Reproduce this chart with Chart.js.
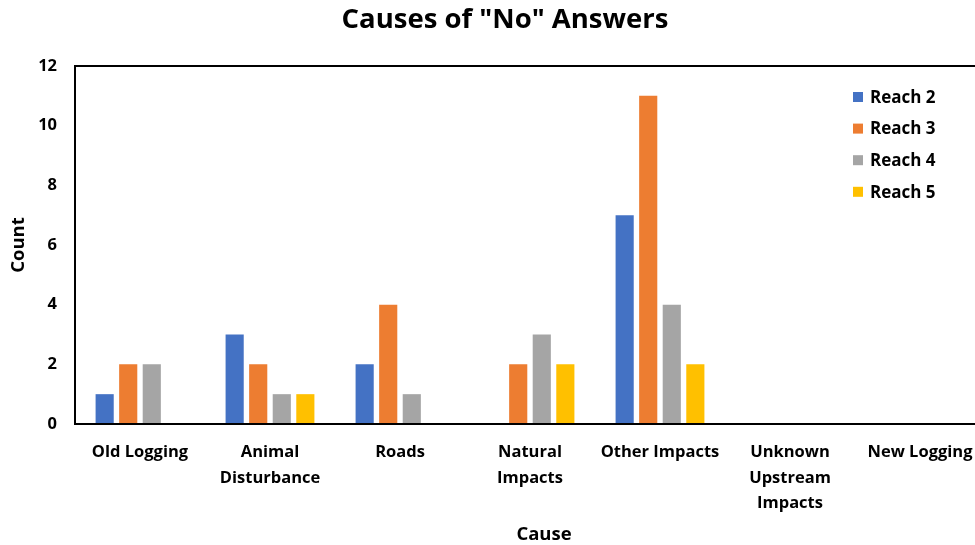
<!DOCTYPE html>
<html>
<head>
<meta charset="utf-8">
<script src="https://cdn.jsdelivr.net/npm/chart.js@4/dist/chart.umd.min.js"></script>
<style>
  html, body { margin: 0; padding: 0; background: #fff; overflow: hidden; }
  #wrap { width: 975px; height: 545px; overflow: hidden; position: relative; }
  #box { width: 1010px; height: 545px; position: absolute; left: 0; top: 0; }
</style>
</head>
<body>
<div id="wrap"><div id="box"><canvas id="c"></canvas></div></div>
<script>
const causes = [
  'Old Logging',
  ['Animal', 'Disturbance'],
  'Roads',
  ['Natural', 'Impacts'],
  'Other Impacts',
  ['Unknown', 'Upstream', 'Impacts'],
  'New Logging'
];
const seriesNames = ['Reach 2', 'Reach 3', 'Reach 4', 'Reach 5'];
const reach2 = [1, 3, 2, 0, 7, 0, 0];
const reach3 = [2, 2, 4, 2, 11, 0, 0];
const reach4 = [2, 1, 1, 3, 4, 0, 0];
const reach5 = [0, 1, 0, 2, 2, 0, 0];
const seriesColors = ['#4472C4', '#ED7D31', '#A5A5A5', '#FFC000'];
const yTicks = [0, 2, 4, 6, 8, 10, 12];
const chartTitle = 'Causes of "No" Answers';
const xTitle = 'Cause';

const FONT = '"Open Sans", Lato, sans-serif';
const TEXT = '#000000';

const values = [reach2, reach3, reach4, reach5];

// Plot-area frame, chart title, x-axis title and the in-plot legend
const framePlugin = {
  id: 'frame',
  afterDatasetsDraw(chart) {
    const { ctx, chartArea: a } = chart;
    ctx.save();
    ctx.strokeStyle = '#000';
    ctx.lineWidth = 2;
    ctx.strokeRect(a.left, a.top, a.right - a.left, a.bottom - a.top);
    ctx.restore();
  },
  afterDraw(chart) {
    const { ctx } = chart;
    ctx.save();
    ctx.fillStyle = TEXT;
    ctx.textAlign = 'center';
    ctx.textBaseline = 'middle';
    ctx.font = 'bold 27.5px ' + FONT;
    ctx.fillText(chartTitle, 505, 20);

    ctx.font = 'bold 18.5px ' + FONT;
    ctx.fillText(xTitle, 544, 535);

    ctx.font = 'bold 17px ' + FONT;
    ctx.textAlign = 'left';
    const x0 = 853, y0 = 97, step = 31.6, sq = 10;
    chart.data.datasets.forEach((ds, i) => {
      const y = y0 + i * step;
      ctx.fillStyle = ds.backgroundColor;
      ctx.fillRect(x0, y - sq / 2, sq, sq);
      ctx.fillStyle = TEXT;
      ctx.fillText(ds.label, x0 + 17, y + 1);
    });
    ctx.restore();
  }
};

new Chart(document.getElementById('c'), {
  type: 'bar',
  data: {
    labels: causes,
    datasets: seriesNames.map((name, i) => ({
      label: name,
      data: values[i],
      backgroundColor: seriesColors[i],
      borderWidth: 0,
      categoryPercentage: 0.725,
      barPercentage: 0.77
    }))
  },
  options: {
    responsive: true,
    maintainAspectRatio: false,
    animation: false,
    layout: { padding: { left: 0, right: 25, top: 66, bottom: 0 } },
    plugins: {
      legend: { display: false },
      tooltip: { enabled: false },
      title: { display: false }
    },
    scales: {
      x: {
        grid: { display: false, drawTicks: false },
        border: { display: false },
        ticks: {
          color: TEXT,
          font: { family: FONT, size: 16.5, weight: 'bold', lineHeight: 1.55 },
          padding: 15.5,
          maxRotation: 0,
          autoSkip: false
        },
        afterFit(scale) { scale.height = 121; }
      },
      y: {
        min: 0,
        max: 12,
        afterBuildTicks(scale) { scale.ticks = yTicks.map(v => ({ value: v })); },
        grid: { display: false, drawTicks: false },
        border: { display: false },
        ticks: {
          color: TEXT,
          font: { family: FONT, size: 16.5, weight: 'bold' },
          padding: 18
        },
        title: {
          display: true,
          text: 'Count',
          color: TEXT,
          font: { family: FONT, size: 18.5, weight: 'bold', lineHeight: 1.2 },
          padding: { top: 8, bottom: 0 }
        },
        afterFit(scale) { scale.width = 75; }
      }
    }
  },
  plugins: [framePlugin]
});
</script>
</body>
</html>
